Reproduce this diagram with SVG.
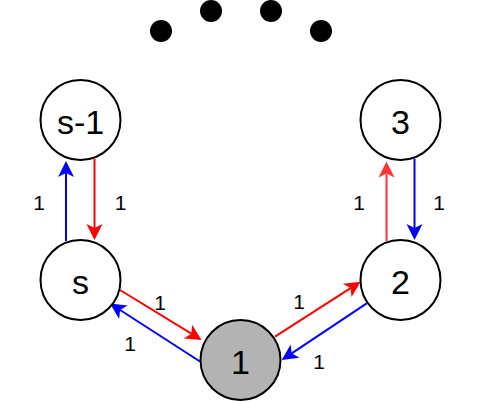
<svg xmlns="http://www.w3.org/2000/svg" width="482" height="402" viewBox="0 0 482 402">
  <style>
    .node { fill: #ffffff; stroke: #000000; stroke-width: 2; }
    .start { fill: #b3b3b3; }
    .dot { fill: #000000; }
    .nlabel { font-family: "Liberation Sans", Arial, sans-serif; font-size: 34px; fill: #000000; text-anchor: middle; }
    .elabel { font-family: "Liberation Sans", Arial, sans-serif; font-size: 21px; fill: #000000; text-anchor: middle; }
    .edge { fill: none; stroke-width: 2; }
    .red { stroke: #ff0000; }
    .lred { stroke: #ff3333; }
    .blue { stroke: #0000ff; }
  </style>
  <defs>
    <marker id="arrRed" markerUnits="userSpaceOnUse" markerWidth="20" markerHeight="20" viewBox="0 -10 20 20" refX="4" refY="0" orient="auto">
      <path d="M16,0 L0,-8 L4,0 L0,8 Z" fill="#ff0000"/>
    </marker>
    <marker id="arrLRed" markerUnits="userSpaceOnUse" markerWidth="20" markerHeight="20" viewBox="0 -10 20 20" refX="4" refY="0" orient="auto">
      <path d="M16,0 L0,-8 L4,0 L0,8 Z" fill="#ff3333"/>
    </marker>
    <marker id="arrBlue" markerUnits="userSpaceOnUse" markerWidth="20" markerHeight="20" viewBox="0 -10 20 20" refX="4" refY="0" orient="auto">
      <path d="M16,0 L0,-8 L4,0 L0,8 Z" fill="#0000ff"/>
    </marker>
  </defs>

  <g id="ellipsis">
    <circle class="dot" cx="161" cy="31" r="11"/>
    <circle class="dot" cx="211" cy="11" r="11"/>
    <circle class="dot" cx="271" cy="11" r="11"/>
    <circle class="dot" cx="321" cy="31" r="11"/>
  </g>

  <g id="connectors">
    <line class="edge blue" x1="66" y1="241" x2="66" y2="173" marker-end="url(#arrBlue)"/>
    <line class="edge red" x1="94.5" y1="159" x2="94.5" y2="228" marker-end="url(#arrRed)"/>
    <line class="edge red" x1="120" y1="290" x2="191.3" y2="333.7" marker-end="url(#arrRed)"/>
    <line class="edge blue" x1="200" y1="361.5" x2="120.1" y2="310" marker-end="url(#arrBlue)"/>
    <line class="edge red" x1="275" y1="336.7" x2="350.6" y2="288.2" marker-end="url(#arrRed)"/>
    <line class="edge blue" x1="366.7" y1="303.3" x2="291.7" y2="353.3" marker-end="url(#arrBlue)"/>
    <line class="edge lred" x1="386.5" y1="241" x2="386.5" y2="173.5" marker-end="url(#arrLRed)"/>
    <line class="edge blue" x1="414.5" y1="159" x2="414.5" y2="228" marker-end="url(#arrBlue)"/>
    <text class="elabel" x="39" y="209.5">1</text>
    <text class="elabel" x="120.5" y="209.5">1</text>
    <text class="elabel" x="160" y="310">1</text>
    <text class="elabel" x="130" y="350.5">1</text>
    <text class="elabel" x="299" y="309">1</text>
    <text class="elabel" x="319" y="369">1</text>
    <text class="elabel" x="359" y="209.5">1</text>
    <text class="elabel" x="439" y="209.5">1</text>
  </g>

  <g id="node-s-1">
    <circle class="node" cx="80.5" cy="120" r="40"/>
    <text class="nlabel" x="80.5" y="133.5">s-1</text>
  </g>
  <g id="node-s">
    <circle class="node" cx="80.5" cy="280" r="40"/>
    <text class="nlabel" x="80.5" y="294">s</text>
  </g>
  <g id="node-1">
    <circle class="node start" cx="240.5" cy="360" r="40"/>
    <text class="nlabel" x="240.5" y="373.5">1</text>
  </g>
  <g id="node-2">
    <circle class="node" cx="400.5" cy="280" r="40"/>
    <text class="nlabel" x="400.5" y="294">2</text>
  </g>
  <g id="node-3">
    <circle class="node" cx="400.5" cy="120" r="40"/>
    <text class="nlabel" x="400.5" y="133.5">3</text>
  </g>
</svg>
